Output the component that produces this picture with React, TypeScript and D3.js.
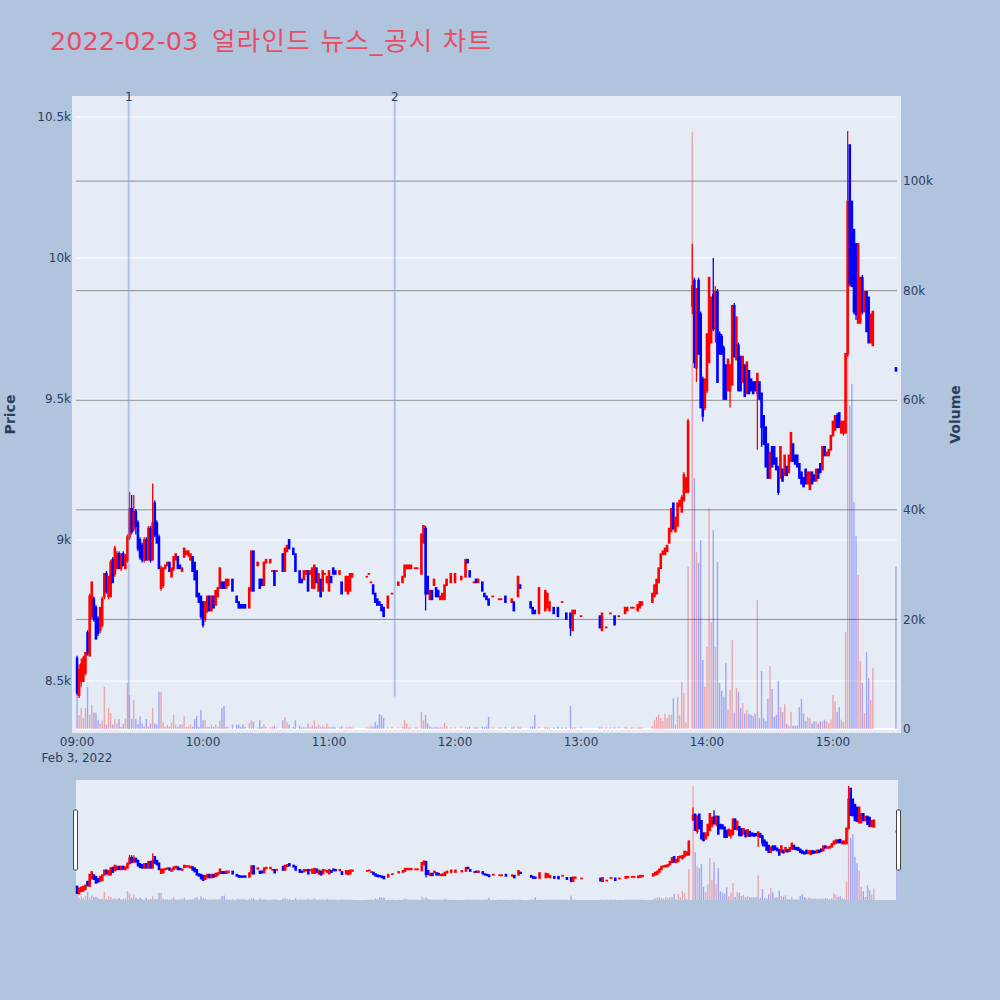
import { useEffect, useRef } from "react";
import * as d3 from "d3";

const titleDate = "2022-02-03";
const titleText = "얼라인드 뉴스_공시 차트";
const sessionDay = "2022-02-03";

// minutes after 09:00 that had at least one trade (1-minute candles)
const minuteOffset = [
  0, 1, 2, 3, 4, 5, 6, 7, 8, 9,
  10, 11, 12, 13, 14, 15, 16, 17, 18, 19,
  20, 21, 22, 23, 24, 25, 26, 27, 28, 29,
  30, 31, 32, 33, 34, 35, 36, 37, 38, 39,
  40, 41, 42, 43, 44, 45, 46, 47, 48, 49,
  50, 51, 52, 53, 54, 55, 56, 57, 58, 59,
  60, 61, 62, 63, 64, 65, 66, 67, 68, 69,
  70, 71, 72, 74, 76, 77, 78, 79, 80, 82,
  83, 84, 86, 87, 88, 89, 90, 92, 93, 94,
  95, 98, 99, 100, 101, 103, 104, 106, 107, 108,
  109, 110, 111, 112, 113, 114, 115, 116, 117, 118,
  119, 120, 121, 122, 123, 125, 126, 128, 129, 130,
  131, 138, 139, 140, 141, 142, 143, 144, 145, 146,
  148, 150, 153, 155, 156, 157, 158, 159, 161, 162,
  164, 165, 166, 167, 168, 169, 170, 171, 172, 173,
  174, 175, 176, 178, 180, 183, 185, 186, 187, 189,
  190, 191, 193, 194, 195, 196, 198, 201, 202, 204,
  207, 208, 210, 211, 216, 217, 218, 220, 223, 224,
  225, 227, 229, 231, 233, 235, 236, 237, 240, 249,
  250, 252, 254, 256, 258, 261, 262, 264, 265, 267,
  268, 269, 274, 275, 276, 277, 278, 279, 280, 281,
  282, 283, 284, 285, 286, 287, 288, 289, 290, 291,
  293, 294, 295, 296, 297, 298, 299, 300, 301, 302,
  303, 304, 305, 306, 307, 308, 309, 310, 311, 312,
  313, 314, 315, 316, 317, 318, 319, 320, 321, 322,
  323, 324, 325, 326, 327, 328, 329, 330, 331, 332,
  333, 334, 335, 336, 337, 338, 339, 340, 341, 342,
  343, 344, 345, 346, 347, 348, 349, 350, 351, 352,
  353, 354, 355, 356, 357, 358, 359, 360, 361, 362,
  363, 364, 365, 366, 367, 368, 369, 370, 371, 372,
  373, 374, 375, 376, 377, 378, 379, 390,
];

const open = [
  8580, 8450, 8500, 8500, 8530, 8670, 8590, 8730, 8790, 8760,
  8720, 8680, 8700, 8800, 8880, 8800, 8800, 8930, 8880, 8900,
  8950, 8900, 8950, 8900, 8930, 9010, 9110, 9040, 9100, 9060,
  9000, 8980, 8930, 9000, 8930, 9040, 8930, 9130, 9060, 9010,
  8830, 8840, 8900, 8910, 8920, 8870, 8900, 8930, 8940, 8910,
  8890, 8940, 8950, 8950, 8930, 8940, 8920, 8890, 8810, 8800,
  8780, 8720, 8750, 8800, 8750, 8800, 8770, 8800, 8830, 8850,
  8850, 8830, 8840, 8860, 8800, 8780, 8770, 8770, 8770, 8760,
  8820, 8960, 8910, 8860, 8860, 8840, 8920, 8920, 8890, 8890,
  8890, 8950, 8890, 8960, 9000, 8970, 8950, 8890, 8860, 8860,
  8880, 8890, 8880, 8830, 8830, 8900, 8820, 8860, 8820, 8880,
  8850, 8820, 8870, 8900, 8890, 8880, 8850, 8820, 8810, 8820,
  8870, 8870, 8880, 8850, 8840, 8810, 8790, 8780, 8770, 8760,
  8760, 8810, 8840, 8850, 8870, 8900, 8900, 8900, 8900, 8900,
  8880, 8990, 9040, 8870, 8790, 8820, 8840, 8830, 8820, 8790,
  8790, 8790, 8840, 8850, 8850, 8860, 8870, 8930, 8890, 8850,
  8860, 8850, 8850, 8810, 8800, 8790, 8800, 8790, 8790, 8800,
  8780, 8780, 8800, 8840, 8780, 8760, 8750, 8740, 8750, 8760,
  8750, 8760, 8760, 8780, 8740, 8740, 8680, 8740, 8730, 8730,
  8680, 8690, 8740, 8730, 8730, 8740, 8750, 8760, 8760, 8750,
  8760, 8770, 8780, 8800, 8810, 8850, 8900, 8950, 8950, 8960,
  8990, 9030, 9130, 9030, 9050, 9120, 9100, 9140, 9170, 9170,
  9830, 9920, 9610, 9920, 9800, 9570, 9470, 9530, 9630, 9700,
  9870, 9750, 9880, 9730, 9720, 9680, 9620, 9530, 9530, 9550,
  9830, 9640, 9690, 9650, 9560, 9620, 9520, 9600, 9570, 9560,
  9560, 9520, 9560, 9520, 9440, 9400, 9340, 9220, 9330, 9330,
  9290, 9260, 9220, 9250, 9230, 9260, 9240, 9280, 9340, 9300,
  9300, 9270, 9240, 9220, 9250, 9200, 9180, 9240, 9230, 9210,
  9250, 9270, 9250, 9330, 9300, 9300, 9320, 9370, 9390, 9440,
  9450, 9380, 9380, 9380, 9660, 10400, 10200, 10100, 10050, 9770,
  9770, 9930, 9810, 9880, 9860, 9700, 9690, 9610,
];

const high = [
  8590, 8560, 8580, 8590, 8600, 8680, 8810, 8850, 8800, 8770,
  8730, 8760, 8800, 8880, 8890, 8870, 8930, 8940, 8980, 8960,
  8960, 8950, 8960, 8950, 9020, 9170, 9160, 9160, 9110, 9070,
  9010, 8990, 9010, 9010, 9050, 9050, 9200, 9140, 9070, 9020,
  8910, 8900, 8910, 8920, 8920, 8900, 8940, 8950, 8940, 8910,
  8900, 8970, 8960, 8960, 8950, 8940, 8920, 8890, 8810, 8800,
  8780, 8780, 8800, 8800, 8800, 8800, 8820, 8830, 8900, 8850,
  8850, 8860, 8860, 8860, 8800, 8780, 8770, 8770, 8770, 8830,
  8960, 8960, 8920, 8860, 8860, 8920, 8930, 8930, 8890, 8890,
  8890, 8950, 8970, 8980, 9000, 8970, 8950, 8890, 8860, 8890,
  8890, 8890, 8890, 8900, 8910, 8900, 8880, 8860, 8890, 8880,
  8870, 8890, 8870, 8900, 8890, 8890, 8850, 8870, 8870, 8880,
  8880, 8870, 8880, 8850, 8840, 8810, 8790, 8780, 8770, 8760,
  8800, 8810, 8850, 8870, 8910, 8910, 8910, 8910, 8900, 8900,
  9020, 9050, 9050, 8870, 8820, 8820, 8860, 8830, 8820, 8800,
  8810, 8840, 8860, 8880, 8880, 8870, 8930, 8930, 8890, 8850,
  8860, 8860, 8850, 8810, 8800, 8790, 8800, 8790, 8790, 8800,
  8790, 8780, 8870, 8840, 8780, 8760, 8750, 8830, 8820, 8810,
  8780, 8760, 8760, 8780, 8740, 8740, 8750, 8750, 8730, 8730,
  8740, 8690, 8740, 8730, 8730, 8760, 8760, 8760, 8760, 8770,
  8780, 8780, 8810, 8840, 8860, 8900, 8950, 8960, 8970, 8980,
  9040, 9110, 9130, 9080, 9130, 9140, 9160, 9240, 9220, 9430,
  10050, 9930, 9890, 9930, 9810, 9580, 9570, 9730, 9930, 9860,
  10000, 9900, 9890, 9740, 9730, 9690, 9620, 9640, 9620, 9830,
  9840, 9790, 9700, 9650, 9650, 9620, 9630, 9600, 9570, 9560,
  9560, 9590, 9560, 9520, 9440, 9400, 9340, 9310, 9330, 9330,
  9290, 9260, 9330, 9250, 9300, 9260, 9300, 9380, 9340, 9300,
  9300, 9270, 9240, 9220, 9250, 9240, 9240, 9240, 9230, 9250,
  9250, 9270, 9330, 9330, 9310, 9320, 9370, 9420, 9440, 9450,
  9450, 9420, 9420, 9660, 10450, 10400, 10200, 10100, 10050, 10050,
  9930, 9940, 9880, 9880, 9860, 9800, 9810, 9610,
];

const low = [
  8450, 8440, 8480, 8500, 8520, 8590, 8590, 8720, 8710, 8650,
  8660, 8670, 8690, 8790, 8810, 8790, 8800, 8850, 8870, 8900,
  8900, 8890, 8910, 8900, 8920, 9000, 9020, 9030, 9020, 8960,
  8930, 8920, 8920, 8930, 8930, 8920, 8930, 9010, 8990, 8900,
  8820, 8830, 8900, 8910, 8890, 8870, 8890, 8930, 8900, 8900,
  8890, 8940, 8950, 8940, 8930, 8890, 8860, 8800, 8780, 8720,
  8690, 8710, 8740, 8750, 8750, 8760, 8770, 8800, 8830, 8830,
  8830, 8830, 8840, 8820, 8780, 8760, 8760, 8760, 8760, 8760,
  8820, 8820, 8910, 8830, 8840, 8840, 8920, 8920, 8890, 8840,
  8890, 8890, 8890, 8960, 8970, 8950, 8890, 8850, 8850, 8860,
  8880, 8820, 8880, 8830, 8830, 8850, 8820, 8800, 8820, 8880,
  8850, 8820, 8850, 8880, 8880, 8880, 8810, 8820, 8810, 8820,
  8870, 8870, 8880, 8850, 8810, 8780, 8770, 8770, 8750, 8730,
  8760, 8810, 8840, 8850, 8870, 8900, 8900, 8900, 8900, 8900,
  8880, 8990, 8750, 8810, 8790, 8790, 8840, 8800, 8800, 8790,
  8790, 8790, 8840, 8850, 8850, 8860, 8870, 8920, 8870, 8850,
  8850, 8850, 8820, 8800, 8790, 8770, 8800, 8790, 8790, 8780,
  8780, 8750, 8800, 8830, 8760, 8740, 8740, 8740, 8750, 8760,
  8750, 8740, 8730, 8780, 8720, 8660, 8680, 8740, 8730, 8690,
  8680, 8690, 8740, 8700, 8730, 8740, 8750, 8760, 8760, 8750,
  8760, 8770, 8780, 8800, 8810, 8850, 8900, 8950, 8950, 8960,
  8990, 9030, 9040, 9030, 9050, 9120, 9100, 9140, 9170, 9170,
  9800, 9610, 9560, 9660, 9470, 9420, 9460, 9520, 9630, 9700,
  9740, 9700, 9560, 9660, 9660, 9500, 9500, 9530, 9470, 9550,
  9650, 9640, 9530, 9530, 9560, 9510, 9520, 9520, 9530, 9520,
  9530, 9320, 9500, 9330, 9340, 9260, 9220, 9220, 9260, 9270,
  9250, 9160, 9220, 9210, 9230, 9230, 9240, 9280, 9280, 9270,
  9260, 9220, 9200, 9190, 9200, 9200, 9180, 9200, 9210, 9210,
  9220, 9240, 9250, 9300, 9300, 9300, 9320, 9370, 9390, 9400,
  9400, 9380, 9370, 9380, 9650, 9900, 9900, 9800, 9780, 9770,
  9770, 9800, 9810, 9740, 9700, 9700, 9690, 9600,
];

const close = [
  8460, 8540, 8560, 8580, 8600, 8600, 8800, 8850, 8720, 8650,
  8670, 8760, 8790, 8880, 8820, 8870, 8920, 8850, 8970, 8950,
  8900, 8950, 8910, 8940, 9010, 9110, 9030, 9100, 9050, 8970,
  8940, 8930, 9000, 8930, 9040, 8930, 9060, 9020, 8990, 8900,
  8900, 8900, 8910, 8920, 8890, 8900, 8940, 8950, 8900, 8900,
  8900, 8970, 8960, 8960, 8950, 8890, 8860, 8800, 8780, 8730,
  8700, 8780, 8800, 8750, 8800, 8760, 8820, 8830, 8900, 8830,
  8830, 8860, 8860, 8820, 8780, 8760, 8760, 8760, 8760, 8830,
  8960, 8820, 8920, 8830, 8840, 8920, 8930, 8930, 8890, 8840,
  8890, 8890, 8970, 8980, 8970, 8950, 8890, 8850, 8850, 8890,
  8890, 8820, 8890, 8900, 8910, 8850, 8880, 8800, 8890, 8880,
  8870, 8890, 8850, 8880, 8880, 8890, 8810, 8870, 8870, 8880,
  8880, 8870, 8880, 8850, 8810, 8780, 8770, 8770, 8750, 8730,
  8800, 8810, 8850, 8870, 8910, 8910, 8910, 8910, 8900, 8900,
  9020, 9050, 8810, 8810, 8820, 8790, 8860, 8800, 8800, 8800,
  8810, 8840, 8860, 8880, 8880, 8870, 8930, 8920, 8870, 8850,
  8850, 8860, 8820, 8800, 8790, 8770, 8800, 8790, 8790, 8780,
  8790, 8750, 8870, 8830, 8760, 8740, 8740, 8830, 8820, 8810,
  8780, 8740, 8730, 8780, 8720, 8690, 8750, 8750, 8730, 8690,
  8740, 8690, 8740, 8700, 8730, 8760, 8760, 8760, 8760, 8770,
  8780, 8780, 8810, 8840, 8860, 8900, 8950, 8960, 8970, 8980,
  9040, 9110, 9040, 9080, 9130, 9140, 9150, 9230, 9220, 9420,
  9900, 9630, 9890, 9660, 9470, 9440, 9570, 9730, 9930, 9860,
  9750, 9880, 9560, 9660, 9660, 9500, 9500, 9640, 9620, 9830,
  9650, 9790, 9530, 9530, 9650, 9510, 9630, 9520, 9530, 9520,
  9530, 9590, 9500, 9400, 9340, 9260, 9220, 9310, 9260, 9270,
  9250, 9170, 9330, 9210, 9300, 9230, 9300, 9380, 9280, 9270,
  9260, 9220, 9200, 9190, 9200, 9240, 9240, 9200, 9210, 9250,
  9220, 9240, 9330, 9300, 9310, 9320, 9370, 9420, 9440, 9400,
  9400, 9420, 9420, 9660, 10200, 9910, 9900, 9810, 9800, 10050,
  9930, 9810, 9880, 9740, 9700, 9800, 9810, 9600,
];

const volume = [
  7500, 2500, 3800, 2000, 3800, 7700, 2600, 4400, 3000, 3000,
  1600, 1000, 1500, 7700, 800, 3800, 2900, 800, 1800, 1000,
  1800, 400, 900, 1900, 8400, 6200, 1800, 5300, 1800, 900,
  2300, 1000, 500, 1800, 500, 1000, 3800, 1000, 800, 6800,
  6800, 1200, 400, 800, 400, 1200, 2600, 800, 400, 800,
  800, 2300, 400, 400, 800, 400, 1800, 2400, 400, 3500,
  1600, 1600, 400, 400, 800, 400, 800, 400, 1500, 3800,
  4200, 400, 400, 800, 800, 800, 400, 800, 400, 1100,
  1600, 1300, 300, 1600, 400, 800, 400, 300, 400, 600,
  300, 1600, 2200, 1200, 800, 400, 1600, 600, 300, 400,
  300, 1000, 300, 600, 1600, 400, 800, 400, 600, 300,
  1000, 400, 300, 400, 300, 300, 500, 300, 300, 400,
  300, 300, 300, 600, 400, 1300, 700, 2700, 2500, 2000,
  300, 400, 300, 400, 1600, 1000, 300, 300, 300, 300,
  3100, 1600, 2600, 1000, 500, 300, 300, 400, 300, 300,
  300, 1100, 500, 300, 300, 300, 400, 300, 400, 300,
  300, 300, 400, 300, 500, 2200, 300, 300, 300, 400,
  300, 400, 500, 300, 400, 500, 2600, 400, 400, 300,
  300, 300, 400, 300, 300, 4200, 300, 300, 300, 300,
  300, 300, 300, 300, 300, 400, 300, 300, 300, 300,
  300, 300, 500, 1600, 2200, 2600, 2000, 1500, 2800, 2000,
  2600, 2600, 5600, 800, 5900, 2500, 8600, 6600, 1200, 29600,
  109000, 45800, 32300, 30300, 34500, 12600, 7700, 15000, 40300, 19500,
  36300, 15000, 30500, 8400, 7000, 5900, 12000, 3500, 7100, 16200,
  3000, 7500, 6800, 3800, 4700, 2800, 3500, 2800, 2600, 2400,
  2800, 23500, 2000, 10600, 2000, 1500, 5500, 11500, 7300, 2200,
  2600, 8800, 4000, 3100, 4500, 900, 600, 3100, 600, 600,
  600, 4000, 5500, 2800, 1500, 2200, 2000, 1000, 1400, 1400,
  1000, 1400, 1300, 1700, 1400, 1100, 1700, 6200, 5100, 3100,
  4000, 1700, 1300, 17700, 85000, 59000, 63000, 41400, 35200, 28100,
  12400, 8400, 2900, 14000, 9300, 5300, 11100, 29600,
];

// news / disclosure markers
const newsTimes = ["09:24:36", "11:31:18"];
const newsLabels = ["1", "2"];
const newsLineFloor = [8330, 8445];

const priceTicks = [8500, 9000, 9500, 10000, 10500];
const volumeTicks = [0, 20000, 40000, 60000, 80000, 100000];
const hourTicks = ["09:00", "10:00", "11:00", "12:00", "13:00", "14:00", "15:00"];
const priceDomain = [8330, 10560];
const volumeDomain = [0, 114800];
const timeDomain = ["08:59:30", "15:30:30"];

const UP = "#ff0000";
const DOWN = "#0000ff";
const FONT = '"DejaVu Sans", Verdana, sans-serif';
const TEXT = "#2a3f5f";

const W = 1000;
const H = 1000;
const plot = { left: 76, right: 897, top: 100, bottom: 729 };
const slider = { left: 76, right: 898, top: 780, bottom: 900 };

const parseStamp = d3.timeParse("%Y-%m-%d %H:%M:%S");
const at = (hms: string) => parseStamp(`${sessionDay} ${hms}`) as Date;

type Bar = { t: Date; o: number; h: number; l: number; c: number; v: number };

const App = () => {
  const svgRef = useRef<SVGSVGElement | null>(null);

  useEffect(() => {
    const svg = d3.select(svgRef.current);
    svg.selectAll("*").remove();

    const start = at("09:00:00");
    const bars: Bar[] = minuteOffset.map((m, i) => ({
      t: d3.timeMinute.offset(start, m),
      o: open[i],
      h: high[i],
      l: low[i],
      c: close[i],
      v: volume[i],
    }));
    const colorOf = (d: Bar) => (d.c >= d.o ? UP : DOWN);

    svg.append("rect").attr("width", W).attr("height", H).attr("fill", "#b0c4de");

    // title: date in DejaVu, Korean part falls back to the CJK font
    const title = svg
      .append("g")
      .attr("font-family", `${FONT}, "Noto Sans CJK KR"`)
      .attr("font-size", 25.5)
      .attr("fill", "#e84c5f");
    title.append("text").attr("x", 50).attr("y", 50).text(titleDate);
    title
      .append("text")
      .attr("x", 212)
      .attr("y", 50)
      .attr("textLength", 279)
      .attr("lengthAdjust", "spacing")
      .text(titleText);

    const drawSeries = (
      g: d3.Selection<SVGGElement, unknown, null, undefined>,
      x: d3.ScaleTime<number, number>,
      yP: d3.ScaleLinear<number, number>,
      yV: d3.ScaleLinear<number, number>
    ) => {
      g.append("g")
        .selectAll("rect")
        .data(bars)
        .join("rect")
        .attr("x", (d) => x(d.t) - 0.7)
        .attr("width", 1.4)
        .attr("y", (d) => yV(d.v))
        .attr("height", (d) => yV(0) - yV(d.v))
        .attr("fill", colorOf)
        .attr("opacity", 0.3);

      const candles = g.append("g").selectAll("g").data(bars).join("g");
      candles
        .append("line")
        .attr("x1", (d) => x(d.t))
        .attr("x2", (d) => x(d.t))
        .attr("y1", (d) => yP(d.h))
        .attr("y2", (d) => yP(d.l))
        .attr("stroke", colorOf)
        .attr("stroke-width", 1.3);
      candles
        .append("rect")
        .attr("x", (d) => x(d.t) - 1.3)
        .attr("width", 2.6)
        .attr("y", (d) => yP(Math.max(d.o, d.c)) - 0.9)
        .attr("height", (d) => Math.abs(yP(d.o) - yP(d.c)) + 1.8)
        .attr("fill", colorOf);
    };

    // ---- main plot ----
    const x = d3
      .scaleTime()
      .domain(timeDomain.map(at))
      .range([plot.left, plot.right]);
    const yP = d3.scaleLinear().domain(priceDomain).range([plot.bottom, plot.top]);
    const yV = d3.scaleLinear().domain(volumeDomain).range([plot.bottom, plot.top]);
    const fmtK = d3.format("~s");

    svg
      .append("rect")
      .attr("x", plot.left - 4)
      .attr("y", plot.top - 4)
      .attr("width", plot.right - plot.left + 8)
      .attr("height", plot.bottom - plot.top + 8)
      .attr("fill", "#e5ecf6");

    svg
      .append("g")
      .selectAll("line")
      .data(priceTicks)
      .join("line")
      .attr("x1", plot.left)
      .attr("x2", plot.right)
      .attr("y1", (d) => yP(d))
      .attr("y2", (d) => yP(d))
      .attr("stroke", "#fff")
      .attr("stroke-width", 1);

    svg
      .append("g")
      .selectAll("line")
      .data(volumeTicks)
      .join("line")
      .attr("x1", plot.left)
      .attr("x2", plot.right)
      .attr("y1", (d) => yV(d))
      .attr("y2", (d) => yV(d))
      .attr("stroke", (d) => (d === 0 ? "#fff" : "#8c8c8c"))
      .attr("stroke-width", (d) => (d === 0 ? 2 : 1));

    drawSeries(svg.append("g"), x, yP, yV);

    // news markers
    const news = svg.append("g");
    newsTimes.forEach((t, i) => {
      const nx = x(at(t));
      news
        .append("line")
        .attr("x1", nx)
        .attr("x2", nx)
        .attr("y1", plot.top)
        .attr("y2", yP(newsLineFloor[i]))
        .attr("stroke", "#6f8fe0")
        .attr("stroke-opacity", 0.45)
        .attr("stroke-width", 2);
      news
        .append("text")
        .attr("x", nx)
        .attr("y", plot.top + 1)
        .attr("text-anchor", "middle")
        .attr("font-family", FONT)
        .attr("font-size", 12)
        .attr("fill", TEXT)
        .text(newsLabels[i]);
    });

    // axes labels
    const labels = svg
      .append("g")
      .attr("font-family", FONT)
      .attr("font-size", 12)
      .attr("fill", TEXT);
    labels
      .selectAll("text.py")
      .data(priceTicks)
      .join("text")
      .attr("class", "py")
      .attr("x", 71)
      .attr("y", (d) => yP(d))
      .attr("dy", "0.35em")
      .attr("text-anchor", "end")
      .text((d) => fmtK(d));
    labels
      .selectAll("text.vy")
      .data(volumeTicks)
      .join("text")
      .attr("class", "vy")
      .attr("x", 903)
      .attr("y", (d) => yV(d))
      .attr("dy", "0.35em")
      .text((d) => fmtK(d));
    labels
      .selectAll("text.tx")
      .data(hourTicks)
      .join("text")
      .attr("class", "tx")
      .attr("x", (d) => x(at(`${d}:00`)))
      .attr("y", 746)
      .attr("text-anchor", "middle")
      .text((d) => d);
    labels
      .append("text")
      .attr("x", x(at("09:00:00")))
      .attr("y", 762)
      .attr("text-anchor", "middle")
      .text(d3.timeFormat("%b %-d, %Y")(at("09:00:00")));

    const mid = (plot.top + plot.bottom) / 2;
    labels
      .append("text")
      .attr("transform", `translate(15,${mid}) rotate(-90)`)
      .attr("text-anchor", "middle")
      .attr("font-size", 14)
      .attr("font-weight", "bold")
      .text("Price");
    labels
      .append("text")
      .attr("transform", `translate(960,${mid}) rotate(-90)`)
      .attr("text-anchor", "middle")
      .attr("font-size", 14)
      .attr("font-weight", "bold")
      .text("Volume");

    // ---- range slider ----
    const sx = d3
      .scaleTime()
      .domain(timeDomain.map(at))
      .range([slider.left, slider.right]);
    const syP = d3.scaleLinear().domain(priceDomain).range([slider.bottom, slider.top]);
    const syV = d3.scaleLinear().domain(volumeDomain).range([slider.bottom, slider.top]);

    svg
      .append("rect")
      .attr("x", slider.left)
      .attr("y", slider.top)
      .attr("width", slider.right - slider.left)
      .attr("height", slider.bottom - slider.top)
      .attr("fill", "#e5ecf6");
    drawSeries(svg.append("g"), sx, syP, syV);

    const handleY = slider.top + 30;
    [slider.left - 2.5, slider.right - 1.5].forEach((hx) => {
      svg
        .append("rect")
        .attr("x", hx)
        .attr("y", handleY)
        .attr("width", 4)
        .attr("height", 60)
        .attr("rx", 1)
        .attr("fill", "#fff")
        .attr("stroke", "#444")
        .attr("stroke-width", 1);
    });
  }, []);

  return (
    <div style={{ position: "absolute", left: 0, top: 0 }}>
      <svg ref={svgRef} width={W} height={H} style={{ display: "block" }} />
    </div>
  );
};

export default App;
